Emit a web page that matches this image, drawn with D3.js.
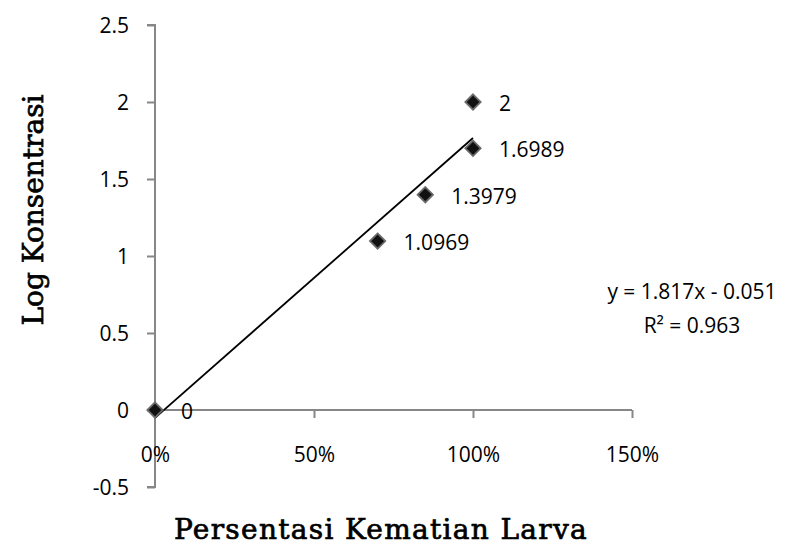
<!DOCTYPE html>
<html><head><meta charset="utf-8">
<script src="https://cdn.jsdelivr.net/npm/d3@7/dist/d3.min.js"></script>
<style>body{margin:0;background:#fff}svg{display:block}</style>
</head><body>
<svg id="c" width="803" height="546"></svg>
<script>
const xValues = [0, 0.70, 0.85, 1.00, 1.00];
const yValues = [0, 1.0969, 1.3979, 1.6989, 2];
const pointLabels = ["0", "1.0969", "1.3979", "1.6989", "2"];
const xTicks = [0, 0.5, 1.0, 1.5];
const yTicks = [-0.5, 0, 0.5, 1, 1.5, 2, 2.5];
const trendSlope = 1.817, trendIntercept = -0.051;
const trendRange = [0, 1];
const equationLines = ["y = 1.817x - 0.051", "R\u00b2 = 0.963"];
const xTitle = "Persentasi Kematian Larva";
const yTitle = "Log Konsentrasi";

const svg = d3.select("#c");
const x = d3.scaleLinear().domain([0, 1.5]).range([155, 632]);
const y = d3.scaleLinear().domain([-0.5, 2.5]).range([487, 25]);
const axisColor = "#878787";
const tickFont = "'Open Sans', 'Liberation Sans', sans-serif";
const fs = "21px";

// y axis
const yAxis = svg.append("g").attr("transform", `translate(${x(0)},0)`)
  .call(d3.axisLeft(y).tickValues(yTicks).tickSize(8).tickPadding(18).tickFormat(d => String(d)));
// x axis
const xAxis = svg.append("g").attr("transform", `translate(0,${y(0)})`)
  .call(d3.axisBottom(x).tickValues(xTicks).tickSize(8).tickPadding(29).tickFormat(d3.format(".0%")));
[yAxis, xAxis].forEach(g => {
  g.select(".domain").attr("stroke", axisColor).attr("stroke-width", 2);
  g.selectAll(".tick line").attr("stroke", axisColor).attr("stroke-width", 2);
  g.selectAll(".tick text").attr("fill", "#000").style("font-family", tickFont).style("font-size", fs);
});
yAxis.selectAll(".tick text").attr("dy", "0.36em");
xAxis.select(".domain").attr("d", `M${x(0)},0H${x(1.5)}`);
yAxis.select(".domain").attr("d", `M-8,${y(2.5)}H0V${y(-0.5)}H-8`);

// trendline
svg.append("line")
  .attr("x1", x(trendRange[0])).attr("y1", y(trendSlope*trendRange[0]+trendIntercept))
  .attr("x2", x(trendRange[1])).attr("y2", y(trendSlope*trendRange[1]+trendIntercept))
  .attr("stroke", "#000").attr("stroke-width", 1.8);

// points
const pts = xValues.map((v, i) => ({x: v, y: yValues[i], label: pointLabels[i]}));
const diamond = d3.symbol().type(d3.symbolDiamond2).size(150);
svg.selectAll("path.pt").data(pts).enter().append("path")
  .attr("class", "pt")
  .attr("d", diamond)
  .attr("transform", d => `translate(${x(d.x)},${y(d.y)})`)
  .attr("fill", "#111").attr("stroke", "#6a6a6a").attr("stroke-width", 1.8);

svg.selectAll("text.pl").data(pts).enter().append("text")
  .attr("class", "pl")
  .attr("x", d => x(d.x) + 26).attr("y", d => y(d.y) + 9)
  .style("font-family", tickFont).style("font-size", fs)
  .text(d => d.label);

// equation
svg.selectAll("text.eq").data(equationLines).enter().append("text")
  .attr("class", "eq")
  .attr("x", 692).attr("y", (d, i) => 299 + i*34)
  .attr("text-anchor", "middle")
  .style("font-family", tickFont).style("font-size", fs)
  .text(d => d);

// titles
const serif = "'DejaVu Serif', serif";
svg.append("text").attr("transform", "translate(43,210) rotate(-90)")
  .attr("text-anchor", "middle")
  .style("font-family", serif).style("font-size", "28px")
  .attr("stroke", "#000").attr("stroke-width", 0.7)
  .text(yTitle);
svg.append("text").attr("x", 381).attr("y", 539)
  .attr("text-anchor", "middle")
  .style("font-family", serif).style("font-size", "28px").style("letter-spacing", "1.3px")
  .attr("stroke", "#000").attr("stroke-width", 0.7)
  .text(xTitle);
</script>
</body></html>
